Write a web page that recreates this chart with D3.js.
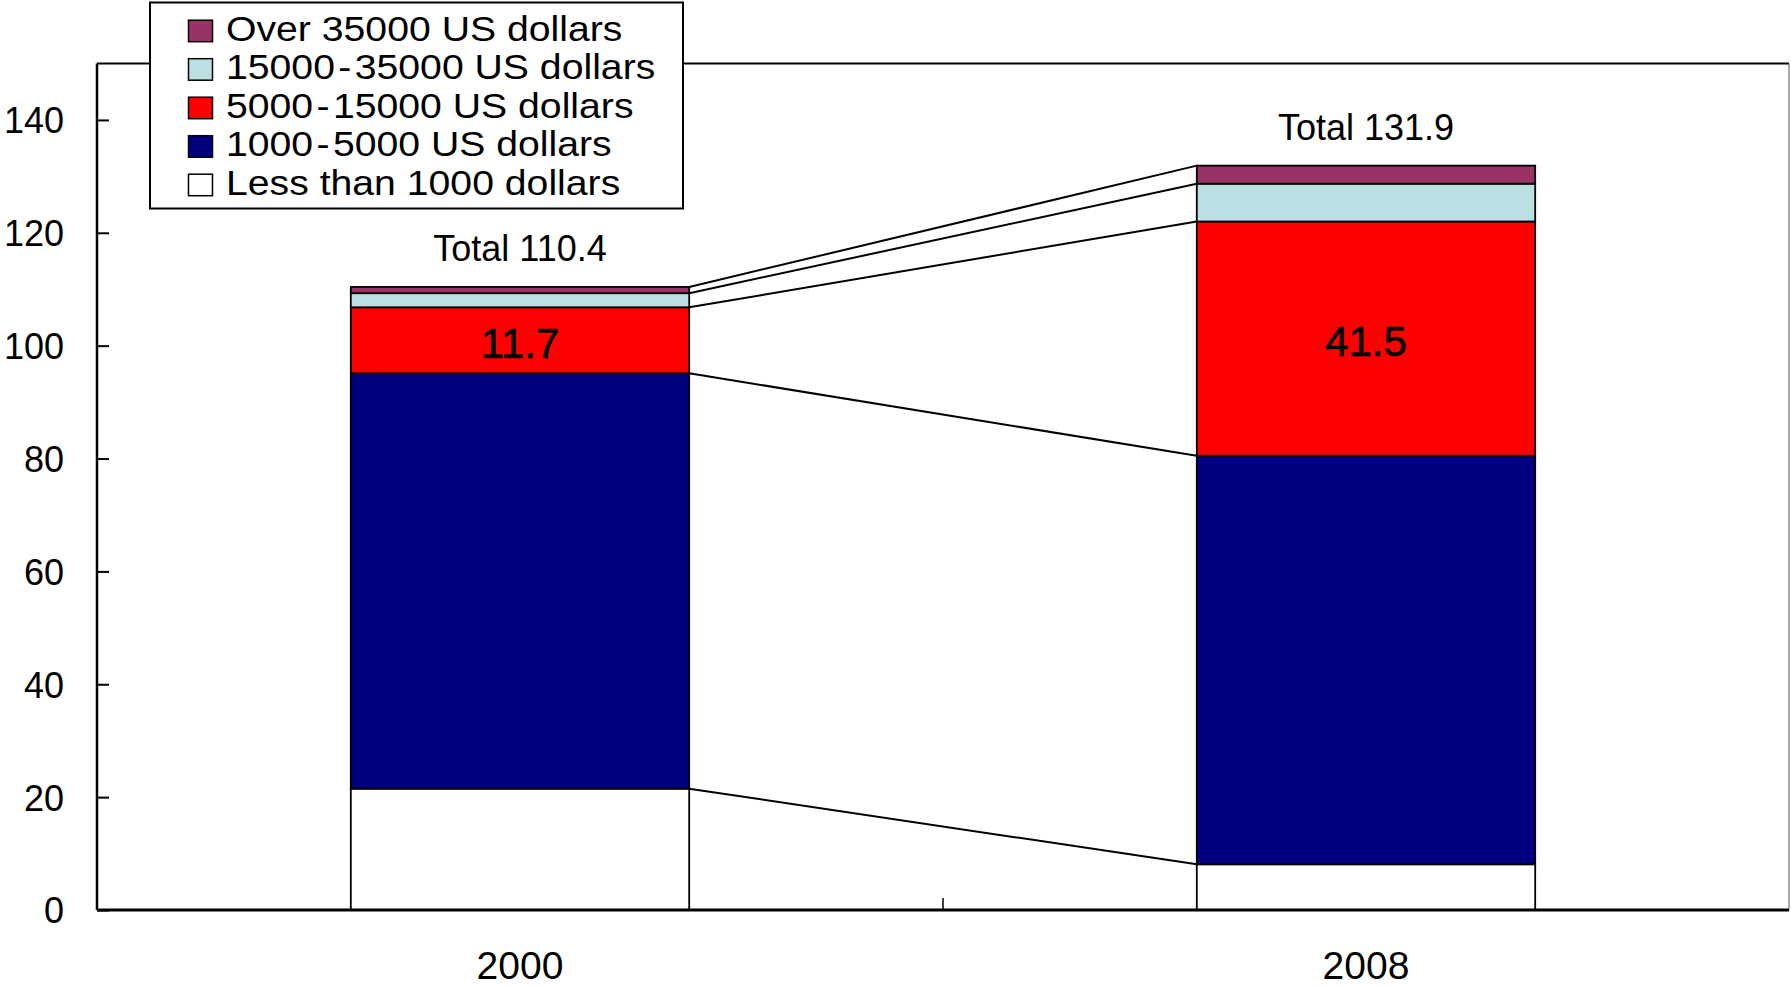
<!DOCTYPE html>
<html>
<head>
<meta charset="utf-8">
<script src="https://cdn.jsdelivr.net/npm/d3@7"></script>
<style>
  html, body { margin: 0; padding: 0; background: #fff; }
  svg { display: block; font-family: "Liberation Sans", Arial, sans-serif; }
</style>
</head>
<body>
<svg id="chart" width="1791" height="987"></svg>
<script>
// ---- data ----
const categories = ["2000", "2008"];
const seriesNames = [
  "Less than 1000 dollars",
  "1000-5000 US dollars",
  "5000-15000 US dollars",
  "15000-35000 US dollars",
  "Over 35000 US dollars"
];
const lessThan1000 = [21.5, 8.1];
const from1000to5000 = [73.6, 72.4];
const from5000to15000 = [11.7, 41.5];
const from15000to35000 = [2.5, 6.7];
const over35000 = [1.1, 3.2];
const totals = [110.4, 131.9];
const yTicks = [0, 20, 40, 60, 80, 100, 120, 140];
const seriesColors = ["#FFFFFF", "#000080", "#FF0000", "#BBE0E3", "#993366"];
const legendLabels = [
  "Over 35000 US dollars",
  "15000-35000 US dollars",
  "5000-15000 US dollars",
  "1000-5000 US dollars",
  "Less than 1000 dollars"
];

// ---- layout ----
const svg = d3.select("#chart");
const plotLeft = 97, plotRight = 1789, plotTop = 63.5, plotBottom = 910;

const x = d3.scaleBand().domain(categories).range([plotLeft, plotRight]).paddingInner(0).paddingOuter(0);
const barW = x.bandwidth() * 0.4;
const barX = c => x(c) + (x.bandwidth() - barW) / 2;
const y = d3.scaleLinear().domain([0, 150]).range([plotBottom, plotTop]);

const seriesValues = [lessThan1000, from1000to5000, from5000to15000, from15000to35000, over35000];
const table = categories.map((c, i) => {
  const row = { cat: c };
  seriesNames.forEach((s, k) => row[s] = seriesValues[k][i]);
  return row;
});
const stacked = d3.stack().keys(seriesNames)(table);
const color = d3.scaleOrdinal().domain(seriesNames).range(seriesColors);

// frame top and right
svg.append("line").attr("x1", plotLeft).attr("x2", plotRight).attr("y1", y(150)).attr("y2", y(150))
  .attr("stroke", "#000").attr("stroke-width", 2);
svg.append("line").attr("x1", plotRight).attr("x2", plotRight).attr("y1", y(150)).attr("y2", y(0))
  .attr("stroke", "#555").attr("stroke-width", 1);

// connector lines
const conn = svg.append("g");
stacked.forEach(layer => {
  conn.append("line")
    .attr("x1", barX(categories[0]) + barW).attr("y1", y(layer[0][1]))
    .attr("x2", barX(categories[1])).attr("y2", y(layer[1][1]))
    .attr("stroke", "#000").attr("stroke-width", 2);
});

// bars
const g = svg.append("g");
stacked.forEach(layer => {
  g.selectAll(null).data(layer).enter().append("rect")
    .attr("x", d => barX(d.data.cat))
    .attr("width", barW)
    .attr("y", d => y(d[1]))
    .attr("height", d => y(d[0]) - y(d[1]))
    .attr("fill", color(layer.key))
    .attr("stroke", "#000").attr("stroke-width", 1.8);
});

// value labels in red segments
const redLayer = stacked[2];
svg.selectAll(null).data(redLayer).enter().append("text")
  .attr("x", d => barX(d.data.cat) + barW / 2)
  .attr("y", d => (y(d[0]) + y(d[1])) / 2)
  .attr("dy", "0.42em")
  .attr("text-anchor", "middle")
  .attr("font-size", 42)
  .attr("fill", "#000")
  .attr("stroke", "#000").attr("stroke-width", 0.6)
  .text((d, i) => from5000to15000[i].toFixed(1));

// totals
svg.selectAll(null).data(categories).enter().append("text")
  .attr("x", c => barX(c) + barW / 2)
  .attr("y", (c, i) => y(totals[i]) - 26)
  .attr("text-anchor", "middle")
  .attr("font-size", 36)
  .attr("fill", "#000")
  .text((c, i) => "Total " + totals[i].toFixed(1));

// y axis
const yAxis = d3.axisLeft(y).tickValues(yTicks).tickSizeInner(-12).tickSizeOuter(0).tickPadding(33);
const ya = svg.append("g").attr("transform", `translate(${plotLeft},0)`).call(yAxis);
ya.select(".domain").remove();
ya.selectAll(".tick line").attr("stroke", "#000").attr("stroke-width", 2);
ya.selectAll(".tick text").attr("font-size", 36).attr("font-family", "Liberation Sans, Arial, sans-serif").attr("fill", "#000").attr("dy", "0.36em");
svg.append("line").attr("x1", plotLeft).attr("x2", plotLeft).attr("y1", y(150)).attr("y2", y(0))
  .attr("stroke", "#000").attr("stroke-width", 2.5);

// x axis
svg.append("line").attr("x1", plotLeft).attr("x2", plotRight).attr("y1", y(0)).attr("y2", y(0))
  .attr("stroke", "#000").attr("stroke-width", 3);
const boundaries = categories.slice(1).map(c => x(c));
svg.selectAll(null).data(boundaries).enter().append("line")
  .attr("x1", d => d).attr("x2", d => d).attr("y1", y(0)).attr("y2", y(0) - 12)
  .attr("stroke", "#000").attr("stroke-width", 1.5);
svg.selectAll(null).data(categories).enter().append("text")
  .attr("x", c => x(c) + x.bandwidth() / 2)
  .attr("y", y(0) + 69)
  .attr("text-anchor", "middle")
  .attr("font-size", 39)
  .attr("fill", "#000")
  .text(c => c);

// legend
const lg = svg.append("g");
lg.append("rect").attr("x", 150).attr("y", 2.5).attr("width", 533).attr("height", 206)
  .attr("fill", "#fff").attr("stroke", "#000").attr("stroke-width", 2);
const legendColors = seriesColors.slice().reverse();
legendLabels.forEach((lab, i) => {
  const base = 40.7 + i * 38.5;
  lg.append("rect").attr("x", 188.5).attr("y", base - 20.5).attr("width", 24).attr("height", 21.5)
    .attr("fill", legendColors[i]).attr("stroke", "#000").attr("stroke-width", 1.5);
  const t = lg.append("text")
    .attr("transform", `translate(226,${base}) scale(1.12,1)`)
    .attr("font-size", 35)
    .attr("fill", "#000");
  const parts = lab.split("-");
  if (parts.length === 2) {
    t.append("tspan").text(parts[0]);
    t.append("tspan").attr("dx", 3).text("-");
    t.append("tspan").attr("dx", 3).text(parts[1]);
  } else {
    t.text(lab);
  }
});
</script>
</body>
</html>
